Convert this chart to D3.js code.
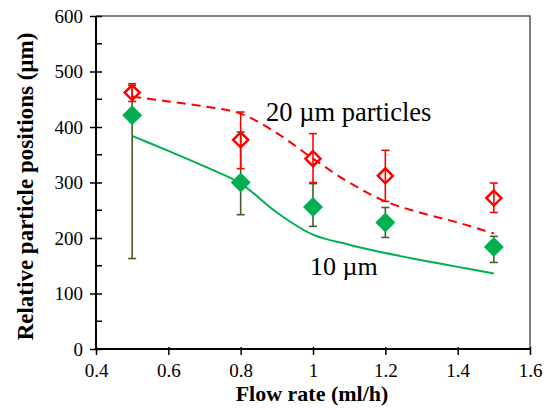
<!DOCTYPE html>
<html>
<head>
<meta charset="utf-8">
<script src="https://cdn.jsdelivr.net/npm/d3@7"></script>
<style>
  html, body { margin: 0; padding: 0; background: #fff; }
  svg { display: block; font-family: "Liberation Serif", "Times New Roman", serif; }
</style>
</head>
<body>
<svg id="chart" width="549" height="410"></svg>
<script>
// Measured particle positions (µm) at each flow rate (ml/h)
const flowRates = [0.5, 0.8, 1.0, 1.2, 1.5];

const pos20 = [462, 377, 343, 312, 272];
const pos20Hi = [478, 427, 388, 358, 299];
const pos20Lo = [446, 325, 300, 266, 246];

const pos10 = [421, 300, 256, 228, 184];
const pos10Hi = [475, 391, 298, 255, 203];
const pos10Lo = [163, 242, 221, 201, 156];

// Simulated trajectories
const modelFlow = [0.5, 0.6, 0.7, 0.8, 0.9, 1.0, 1.1, 1.2, 1.3, 1.4, 1.5];
const model20 = [455, 446, 437, 424, 389, 343, 300, 266, 245, 228, 208];
const model10 = [384, 357, 329, 298, 246, 206, 188, 173, 160, 148, 136];

const xTicks = [0.4, 0.6, 0.8, 1.0, 1.2, 1.4, 1.6];
const yTicks = [0, 100, 200, 300, 400, 500, 600];
const yMinorTicks = [50, 150, 250, 350, 450, 550];

const red = "#ff0000";
const green = "#00b050";
const errGreen = "#3f6128";
const serif = "'Liberation Serif', 'Times New Roman', serif";

const svg = d3.select("#chart");
const x = d3.scaleLinear().domain([0.4, 1.6]).range([96, 530]);
const y = d3.scaleLinear().domain([0, 600]).range([349, 16]);

// Frame (top and right)
svg.append("path")
  .attr("d", `M${x(0.4)},${y(600)}H${x(1.6)}V${y(0)}`)
  .attr("fill", "none").attr("stroke", "#555").attr("stroke-width", 1.5);

// Y axis
const yAxis = svg.append("g").attr("transform", `translate(${x(0.4)},0)`)
  .call(d3.axisLeft(y).tickValues(yTicks).tickSize(6).tickPadding(5).tickFormat(d3.format("d")));
yAxis.attr("font-family", serif);
yAxis.selectAll(".tick line").attr("x2", -6).attr("x1", 6).attr("stroke-width", 1.5);
yAxis.selectAll(".tick text").attr("font-size", 19).attr("fill", "#000").attr("dx", "-2");
yAxis.select(".domain").attr("stroke-width", 2).attr("d", `M0,${y(0)}V${y(600)}`);
yAxis.selectAll(".minor").data(yMinorTicks).enter().append("line")
  .attr("x1", 0).attr("x2", 6).attr("y1", d => y(d)).attr("y2", d => y(d))
  .attr("stroke", "#000").attr("stroke-width", 1.5);

// X axis
const xAxis = svg.append("g").attr("transform", `translate(0,${y(0)})`)
  .call(d3.axisBottom(x).tickValues(xTicks).tickSize(6).tickPadding(9).tickFormat(d => d3.format("")(+d.toFixed(1))));
xAxis.attr("font-family", serif);
xAxis.selectAll(".tick line").attr("y1", -2).attr("stroke-width", 1.5);
xAxis.selectAll(".tick text").attr("font-size", 19).attr("fill", "#000");
xAxis.select(".domain").attr("stroke-width", 2).attr("d", `M${x(0.4)},0H${x(1.6)}`);

// Axis titles
svg.append("text")
  .attr("x", 312).attr("y", 401).attr("text-anchor", "middle")
  .attr("font-size", 22).attr("font-weight", "bold").text("Flow rate (ml/h)");
svg.append("text")
  .attr("transform", `translate(33,${(y(0) + y(600)) / 2 + 4}) rotate(-90)`)
  .attr("text-anchor", "middle")
  .attr("font-size", 23).attr("font-weight", "bold").text("Relative particle positions (µm)");

// Model curves
const line = (ys) => d3.line().x((d, i) => x(modelFlow[i])).y(d => y(d)).curve(d3.curveCatmullRom)(ys);
svg.append("path").attr("d", line(model10))
  .attr("fill", "none").attr("stroke", green).attr("stroke-width", 2);
svg.append("path").attr("d", line(model20))
  .attr("fill", "none").attr("stroke", red).attr("stroke-width", 2).attr("stroke-dasharray", "9,6");

// Error bars
function errorBars(lo, hi, color) {
  const g = svg.append("g").attr("stroke", color).attr("stroke-width", 1.6);
  flowRates.forEach((f, i) => {
    const cx = x(f);
    g.append("line").attr("x1", cx).attr("x2", cx).attr("y1", y(lo[i])).attr("y2", y(hi[i]));
    g.append("line").attr("x1", cx - 4).attr("x2", cx + 4).attr("y1", y(lo[i])).attr("y2", y(lo[i]));
    g.append("line").attr("x1", cx - 4).attr("x2", cx + 4).attr("y1", y(hi[i])).attr("y2", y(hi[i]));
  });
}
errorBars(pos10Lo, pos10Hi, errGreen);
errorBars(pos20Lo, pos20Hi, red);

// Markers
const diamond = (cx, cy, r) => `M${cx},${cy - r}L${cx + r},${cy}L${cx},${cy + r}L${cx - r},${cy}Z`;
svg.append("g").selectAll("path").data(pos10).enter().append("path")
  .attr("d", (d, i) => diamond(x(flowRates[i]), y(d), 10))
  .attr("fill", green);
svg.append("g").selectAll("path").data(pos20).enter().append("path")
  .attr("d", (d, i) => diamond(x(flowRates[i]), y(d), 7.5))
  .attr("fill", "none").attr("stroke", red).attr("stroke-width", 2.5);

// Series labels
svg.append("text").attr("x", 266).attr("y", 121).attr("font-size", 26.5).text("20 µm particles");
svg.append("text").attr("x", 310).attr("y", 275).attr("font-size", 26).text("10 µm");
</script>
</body>
</html>
